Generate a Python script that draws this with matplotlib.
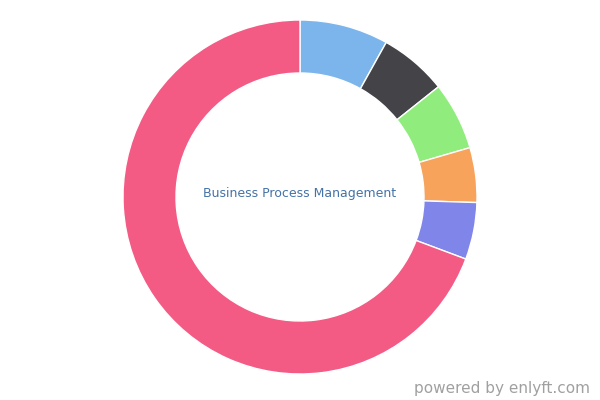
import matplotlib
matplotlib.use("Agg")
from matplotlib import pyplot as plt

# slice shares, clockwise from 12 o'clock
labels = ['Blue', 'Dark', 'Green', 'Orange', 'Purple', 'Business Process Management']
shares = [8.1, 6.2, 6.2, 5.0, 5.2, 69.3]
colors = ['#7cb5ec', '#434348', '#90ed7d', '#f7a35c', '#8085e9', '#f45b84']
center_text = 'Business Process Management'
credit = 'powered by enlyft.com'

fig = plt.figure(figsize=(6, 4), dpi=100)
ax = fig.add_axes([0, 0, 1, 1])

ax.pie(shares, colors=colors, startangle=90, counterclock=False,
       center=(300, 203), radius=177, frame=True,
       wedgeprops=dict(width=53, edgecolor='white', linewidth=1))
ax.set_xlim(0, 600)
ax.set_ylim(0, 400)
ax.set_aspect('equal')
ax.axis('off')

ax.text(300, 206, center_text, ha='center', va='center',
        fontsize=9, color='#4572a7', family='DejaVu Sans')
ax.text(590, 11, credit, ha='right', va='center',
        fontsize=11, color='#a0a0a0', family='DejaVu Sans')

fig.savefig('out.png', dpi=100)
